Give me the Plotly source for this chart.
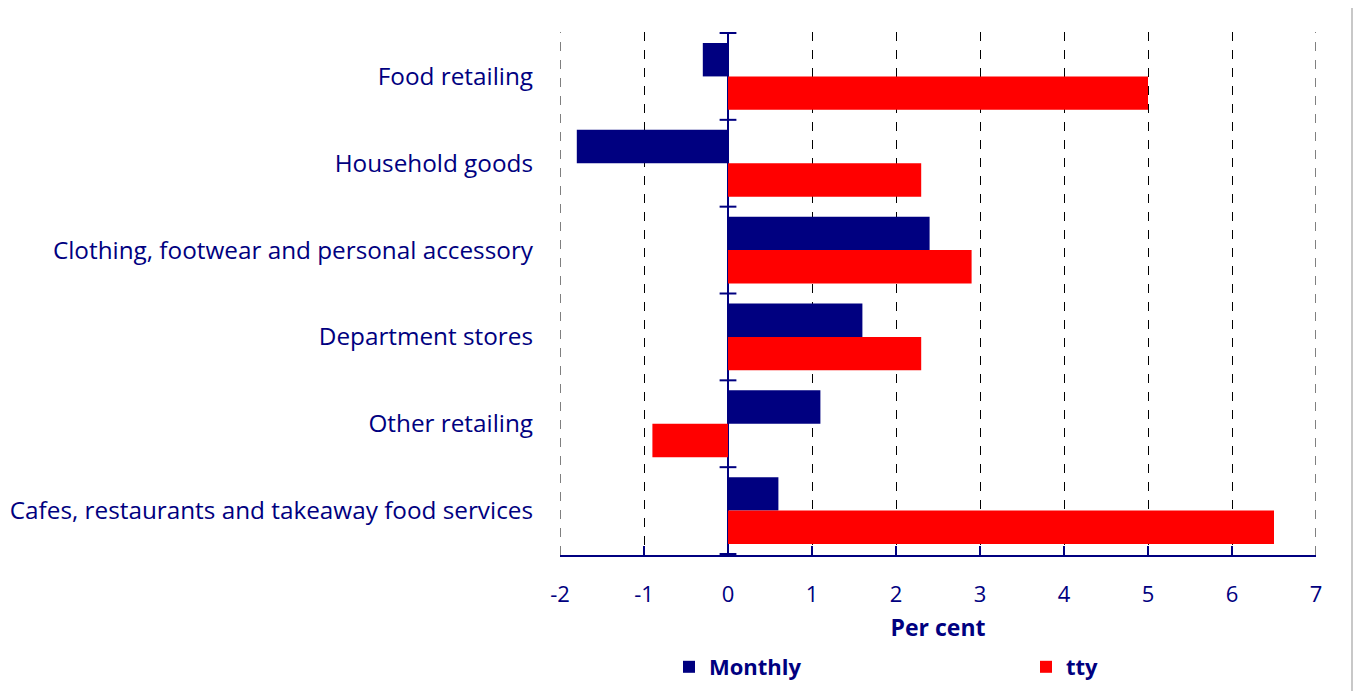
import plotly.graph_objects as go

categories = [
    "Food retailing",
    "Household goods",
    "Clothing, footwear and personal accessory",
    "Department stores",
    "Other retailing",
    "Cafes, restaurants and takeaway food services",
]
monthly = [-0.3, -1.8, 2.4, 1.6, 1.1, 0.6]
tty = [5.0, 2.3, 2.9, 2.3, -0.9, 6.5]
x_ticks = [-2, -1, 0, 1, 2, 3, 4, 5, 6, 7]

NAVY = "#000080"
RED = "#FF0000"
FONT = "Open Sans"

W, H = 1358, 691
M = dict(l=560, r=42, t=32, b=136)
plot_w = W - M["l"] - M["r"]
plot_h = H - M["t"] - M["b"]

fig = go.Figure()
fig.add_trace(go.Bar(y=categories, x=monthly, orientation="h", name="Monthly",
                     marker=dict(color=NAVY, line=dict(width=0)), legend="legend"))
fig.add_trace(go.Bar(y=categories, x=tty, orientation="h", name="tty",
                     marker=dict(color=RED, line=dict(width=0)), legend="legend2"))

# dashed gridlines at both ends of the value axis
for xv in (x_ticks[0], x_ticks[-1]):
    fig.add_shape(type="line", xref="x", yref="paper", x0=xv, x1=xv, y0=0, y1=1,
                  line=dict(color="black", width=1, dash="dash"), layer="below")

# category separator ticks crossing the zero line
n = len(categories)
for i in range(n + 1):
    fig.add_shape(type="line", xref="x", yref="y",
                  x0=-0.1, x1=0.1, y0=i - 0.5, y1=i - 0.5,
                  line=dict(color=NAVY, width=2), layer="above")

# thin frame line on the right of the figure
fx = (W - 6 - M["l"]) / plot_w
fig.add_shape(type="line", xref="paper", yref="paper",
              x0=fx, x1=fx,
              y0=-M["b"] / plot_h, y1=(plot_h + M["t"] - 8) / plot_h,
              line=dict(color="#c8c8c8", width=2))

legend_y = 1 - 667 / H
legend_font = dict(family=FONT, size=22, color=NAVY, weight="bold")

fig.update_layout(
    width=W, height=H,
    margin=M,
    paper_bgcolor="white", plot_bgcolor="white",
    barmode="group", bargap=0.23, bargroupgap=0,
    font=dict(family=FONT, color=NAVY, size=22),
    showlegend=True,
    legend=dict(orientation="h", xref="container", yref="container",
                x=669 / W, xanchor="left", y=legend_y, yanchor="middle",
                font=legend_font, bgcolor="rgba(0,0,0,0)"),
    legend2=dict(orientation="h", xref="container", yref="container",
                 x=1026 / W, xanchor="left", y=legend_y, yanchor="middle",
                 font=legend_font, bgcolor="rgba(0,0,0,0)"),
    xaxis=dict(range=[x_ticks[0], x_ticks[-1]], tickvals=x_ticks,
               ticktext=[str(v) for v in x_ticks],
               showgrid=True, gridcolor="black", griddash="dash", gridwidth=1,
               showline=True, linecolor=NAVY, linewidth=2,
               ticks="inside", ticklen=9, tickcolor=NAVY, tickwidth=2,
               zeroline=True, zerolinecolor=NAVY, zerolinewidth=2,
               tickfont=dict(family=FONT, size=22, color=NAVY),
               ticklabelstandoff=19, automargin=False,
               title=dict(text="<b>Per cent</b>", font=dict(family=FONT, size=23, color=NAVY),
                          standoff=12)),
    yaxis=dict(autorange="reversed", showgrid=False, showline=False, ticks="",
               tickfont=dict(family=FONT, size=24.3, color=NAVY),
               ticklabelstandoff=26, automargin=False),
)

fig.write_html("out.html")
